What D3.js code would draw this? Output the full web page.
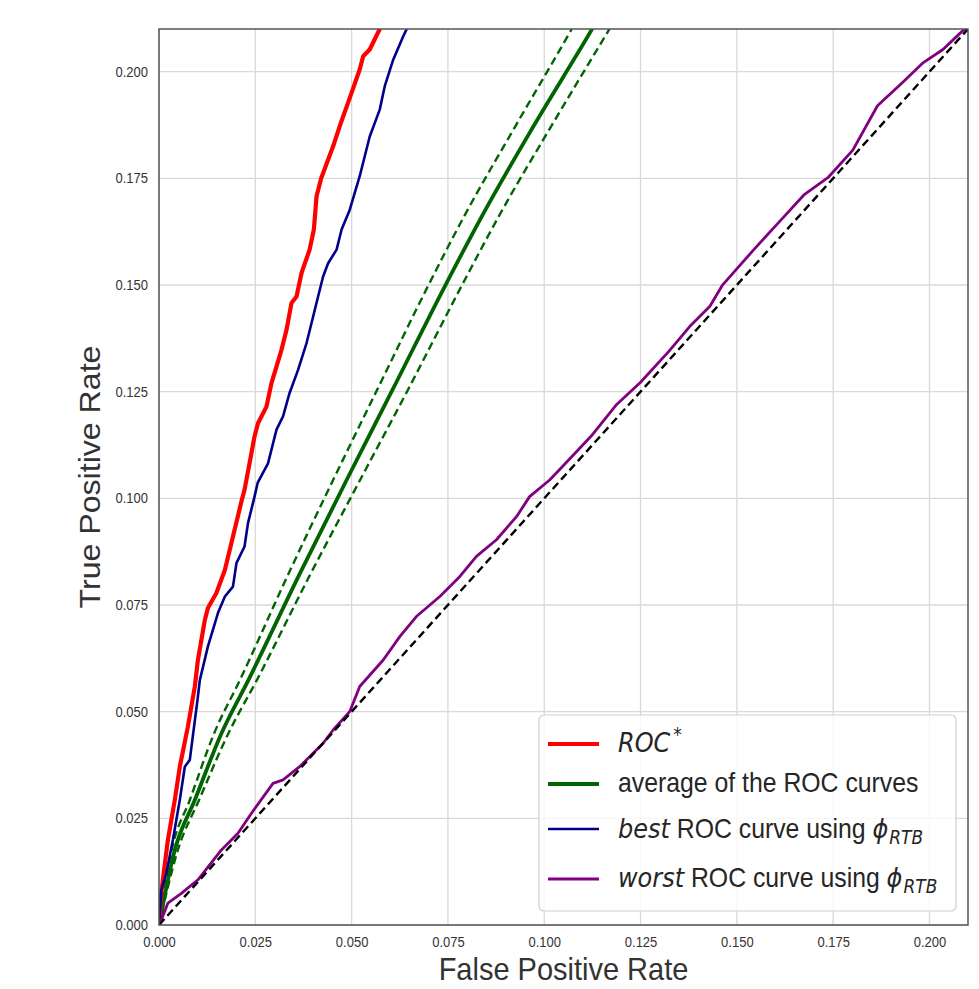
<!DOCTYPE html>
<html><head><meta charset="utf-8">
<script src="https://cdn.jsdelivr.net/npm/d3@7"></script>
<style>body{margin:0;background:#fff}</style>
</head><body><svg id="chart" width="979" height="989"></svg>
<script>
// ---- data ----
const xTicks = [0,0.025,0.05,0.075,0.1,0.125,0.15,0.175,0.2];
const yTicks = [0,0.025,0.05,0.075,0.1,0.125,0.15,0.175,0.2];

// ROC* (red)
const rocStar = [[0,0],[0.0004,0.0059],[0.001,0.0106],[0.0023,0.0199],[0.0041,0.0293],[0.0054,0.0371],[0.0075,0.0465],[0.0093,0.0559],[0.0101,0.0621],[0.0119,0.0715],[0.0127,0.0743],[0.0149,0.0778],[0.0171,0.0832],[0.0216,0.1],[0.0222,0.102],[0.0235,0.1082],[0.0248,0.1145],[0.0257,0.1176],[0.0279,0.1215],[0.0292,0.127],[0.0318,0.1348],[0.0331,0.1395],[0.0344,0.1458],[0.0357,0.1473],[0.037,0.1528],[0.0391,0.1583],[0.0402,0.163],[0.0409,0.1708],[0.0421,0.175],[0.0452,0.1825],[0.0469,0.1872],[0.0495,0.1938],[0.0521,0.2005],[0.053,0.2036],[0.0547,0.2052],[0.0573,0.21],[0.0590,0.2150]];

// best ROC curve (blue)
const bestRoc = [[0,0],[0.0006,0.0082],[0.0019,0.0121],[0.0036,0.0199],[0.0054,0.0293],[0.0067,0.0371],[0.008,0.0387],[0.0091,0.0465],[0.01,0.0528],[0.0106,0.0574],[0.0127,0.0653],[0.0153,0.0731],[0.0171,0.077],[0.0192,0.0793],[0.0201,0.0848],[0.0222,0.0887],[0.0231,0.0942],[0.0248,0.1004],[0.0256,0.1036],[0.0283,0.1082],[0.0305,0.1161],[0.0322,0.1192],[0.0339,0.1247],[0.0361,0.1301],[0.0383,0.1364],[0.0396,0.1411],[0.0413,0.1473],[0.0426,0.152],[0.0439,0.1551],[0.0461,0.1583],[0.0474,0.163],[0.0495,0.1676],[0.0521,0.1755],[0.0547,0.1848],[0.0573,0.1911],[0.0586,0.1966],[0.0608,0.2028],[0.0634,0.2083],[0.0642,0.2098],[0.0660,0.2150]];

// average of the ROC curves (green) and its dashed band
const avgRoc = [[0,0],[0.0041,0.0176],[0.0093,0.0293],[0.0162,0.0449],[0.0232,0.0574],[0.0362,0.0817],[0.0487,0.1043],[0.0606,0.1254],[0.0742,0.1497],[0.0838,0.1661],[0.0972,0.1872],[0.1123,0.2098],[0.1150,0.2140]];
const avgUpper = [[0,0],[0.0033,0.0176],[0.008,0.0293],[0.0143,0.0449],[0.021,0.0574],[0.0333,0.0817],[0.0452,0.1043],[0.0566,0.1254],[0.0698,0.1497],[0.0792,0.1661],[0.0925,0.1872],[0.107,0.2098],[0.1096,0.2140]];
const avgLower = [[0,0],[0.0049,0.0176],[0.0104,0.0293],[0.018,0.0449],[0.0254,0.0574],[0.039,0.0817],[0.0522,0.1043],[0.0646,0.1254],[0.0785,0.1497],[0.0882,0.1661],[0.1018,0.1872],[0.1168,0.2098],[0.1196,0.2140]];

// worst ROC curve (purple)
const worstRoc = [[0,0],[0.0006,0.0012],[0.0023,0.0051],[0.0058,0.0074],[0.0101,0.0106],[0.0162,0.0176],[0.0205,0.0215],[0.024,0.0262],[0.0296,0.0332],[0.0322,0.034],[0.0365,0.0371],[0.0426,0.0426],[0.0452,0.0457],[0.0495,0.05],[0.0521,0.0559],[0.0582,0.0621],[0.0625,0.0676],[0.0668,0.0723],[0.0729,0.077],[0.0781,0.0817],[0.0824,0.0864],[0.0876,0.0903],[0.0928,0.0957],[0.0962,0.1004],[0.1014,0.1043],[0.1048,0.1075],[0.1122,0.1146],[0.1186,0.1218],[0.125,0.1272],[0.1324,0.1345],[0.1377,0.1402],[0.143,0.145],[0.1462,0.1499],[0.1547,0.1586],[0.161,0.1648],[0.1674,0.1711],[0.1738,0.1753],[0.1801,0.1816],[0.1865,0.192],[0.1928,0.1973],[0.1982,0.202],[0.2035,0.2052],[0.2077,0.2088],[0.212,0.2125]];

// chance diagonal
const diagonal = [[0,0],[1,1]];

// ---- layout ----
const SY = 1.107; // vertical stretch of the reference image
const svg = d3.select("#chart");
const L = 159, R = 968, T = 29, B = 925;
const x = d3.scaleLinear().domain([0,0.21]).range([L,R]);
const y = d3.scaleLinear().domain([0,0.21]).range([B,T]);

svg.append("rect").attr("x",0).attr("y",0).attr("width",979).attr("height",989).attr("fill","#fff");

svg.append("defs").append("clipPath").attr("id","clip")
  .append("rect").attr("x",L).attr("y",T).attr("width",R-L).attr("height",B-T);

// grid
const grid = svg.append("g");
grid.selectAll(".gx").data(xTicks).join("line")
  .attr("x1",d=>x(d)).attr("x2",d=>x(d)).attr("y1",T).attr("y2",B)
  .attr("stroke","#d9d9d9").attr("stroke-width",1.3);
grid.selectAll(".gy").data(yTicks).join("line")
  .attr("y1",d=>y(d)).attr("y2",d=>y(d)).attr("x1",L).attr("x2",R)
  .attr("stroke","#d9d9d9").attr("stroke-width",1.3);

// axes
const fmt = d3.format(".3f");
const xAxis = svg.append("g").attr("transform",`translate(0,${B})`)
  .call(d3.axisBottom(x).tickValues(xTicks).tickFormat(fmt).tickSize(0).tickPadding(11));
const yAxis = svg.append("g").attr("transform",`translate(${L},0)`)
  .call(d3.axisLeft(y).tickValues(yTicks).tickFormat(fmt).tickSize(0).tickPadding(11));
[xAxis,yAxis].forEach(a=>{
  a.select(".domain").remove();
  a.selectAll("text").attr("font-family","'Liberation Sans', Arial, sans-serif")
   .attr("font-size",13).attr("fill","#333").attr("transform",`scale(1,${SY})`);
});

// lines
const line = d3.line().x(d=>x(d[0])).y(d=>y(d[1]));
const smooth = d3.line().x(d=>x(d[0])).y(d=>y(d[1])).curve(d3.curveMonotoneX);
const plot = svg.append("g").attr("clip-path","url(#clip)");
const series = [
  {data: avgUpper, color:"#006400", w:2.4, dash:"8,4.5", s:true},
  {data: avgLower, color:"#006400", w:2.4, dash:"8,4.5", s:true},
  {data: avgRoc, color:"#006400", w:3.8, dash:null, s:true},
  {data: rocStar, color:"#ff0000", w:4.2, dash:null},
  {data: bestRoc, color:"#00008b", w:2.6, dash:null},
  {data: worstRoc, color:"#800080", w:2.8, dash:null},
  {data: diagonal, color:"#000000", w:2.4, dash:"8,4.5"}
];
plot.selectAll("path").data(series).join("path")
  .attr("d",d=>(d.s?smooth:line)(d.data)).attr("fill","none")
  .attr("stroke",d=>d.color).attr("stroke-width",d=>d.w)
  .attr("stroke-dasharray",d=>d.dash).attr("stroke-linejoin","round");

// spines
svg.append("rect").attr("x",L).attr("y",T).attr("width",R-L).attr("height",B-T)
  .attr("fill","none").attr("stroke","#555").attr("stroke-width",1.5);

// axis titles
svg.append("text").attr("transform",`translate(${(L+R)/2},980) scale(1,${SY})`)
  .attr("text-anchor","middle").attr("font-family","'Liberation Sans', Arial, sans-serif")
  .attr("font-size",29).attr("fill","#333").text("False Positive Rate");
svg.append("text").attr("transform",`translate(100,${(T+B)/2}) scale(1,${SY}) rotate(-90)`)
  .attr("text-anchor","middle").attr("font-family","'Liberation Sans', Arial, sans-serif")
  .attr("font-size",29).attr("fill","#333").text("True Positive Rate");

// legend
const legendColors = ["#ff0000","#006400","#00008b","#800080"];
const legendWidths = [4.2,4.2,2.6,2.8];
const legendLineY = [744,784,829,879];
const legendBase = [752,792,838,887];
const lg = svg.append("g");
lg.append("rect").attr("x",539).attr("y",715).attr("width",417).attr("height",196).attr("rx",5)
  .attr("fill","#fff").attr("fill-opacity",0.8).attr("stroke","#cfcfcf").attr("stroke-width",1.2);
lg.selectAll("line").data(legendColors).join("line")
  .attr("x1",548).attr("x2",599).attr("y1",(d,i)=>legendLineY[i]).attr("y2",(d,i)=>legendLineY[i])
  .attr("stroke",d=>d).attr("stroke-width",(d,i)=>legendWidths[i]);

const SANS = "'Liberation Sans', Arial, sans-serif";
const MATH = "'DejaVu Sans', sans-serif";
const legendLabels = [
  [{t:"ROC",f:MATH,s:24,i:true},{t:"*",f:MATH,s:17,dx:3,dy:-10}],
  [{t:"average of the ROC curves",f:SANS,s:24.8}],
  [{t:"best",f:MATH,s:24,i:true},{t:" ROC curve using ",f:SANS,s:24.8},{t:"ϕ",f:MATH,s:24,i:true},{t:"RTB",f:MATH,s:17,i:true,dx:1,dy:5}],
  [{t:"worst",f:MATH,s:24,i:true},{t:" ROC curve using ",f:SANS,s:24.8},{t:"ϕ",f:MATH,s:24,i:true},{t:"RTB",f:MATH,s:17,i:true,dx:1,dy:5}]
];
legendLabels.forEach((segs,i)=>{
  const t = lg.append("text").attr("transform",`translate(618,${legendBase[i]}) scale(1,${SY})`)
    .attr("fill","#262626").style("white-space","pre");
  segs.forEach(s=>{
    t.append("tspan").attr("font-family",s.f).attr("font-size",s.s)
      .attr("font-style",s.i?"italic":"normal")
      .attr("dx",s.dx||0).attr("dy",s.dy||0).text(s.t);
  });
});
</script></body></html>
